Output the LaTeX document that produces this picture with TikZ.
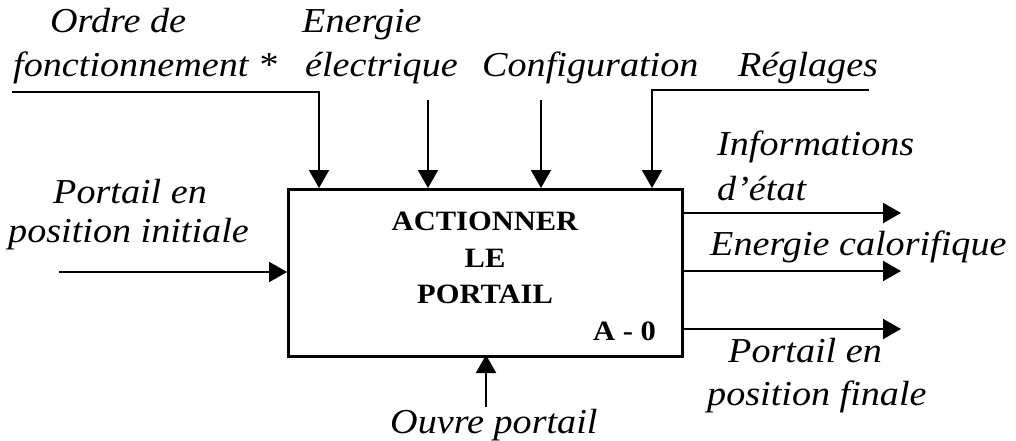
\documentclass[tikz,border=0pt]{standalone}
\usepackage{fontspec}
\setmainfont{Liberation Serif}[FakeStretch=1.09]
\usetikzlibrary{arrows.meta}
\tikzset{
  lab/.style={font=\fontsize{35}{40}\selectfont\itshape, inner sep=0pt, anchor=base west},
  ttl/.style={font=\fontsize{28}{34}\selectfont\bfseries, inner sep=0pt, anchor=base},
  flow/.style={line width=2pt, -{Triangle[length=18pt,width=20pt]}},
  plain/.style={line width=2pt},
  blk/.style={draw, line width=3pt, inner sep=0pt, anchor=north west}
}
\begin{document}
\begin{tikzpicture}[x=1pt,y=-1pt]
\useasboundingbox (0,0) rectangle (1016,441);
% box
\node[blk, minimum width=394pt, minimum height=167pt] (box) at (287,188) {};
\node[ttl] (t1) at (485,230) {ACTIONNER};
\node[ttl] (t2) at (485,267) {LE};
\node[ttl] (t3) at (485,303) {PORTAIL};
\node[ttl, anchor=base east] (ref) at (656,340) {A - 0};
% labels
\node[lab] (ord1) at (50,33) {Ordre de};
\node[lab] (ord2) at (13,77) {fonctionnement *};
\node[lab] (ene1) at (302,33) {Energie};
\node[lab] (ene2) at (305,77) {électrique};
\node[lab] (conf) at (482,77) {Configuration};
\node[lab] (regl) at (738,77) {Réglages};
\node[lab] (pin1) at (53,203) {Portail en};
\node[lab] (pin2) at (8,242) {position initiale};
\node[lab] (inf1) at (717,155) {Informations};
\node[lab] (inf2) at (717,200) {d’état};
\node[lab] (cal) at (710,255) {Energie calorifique};
\node[lab] (pfi1) at (728,362) {Portail en};
\node[lab] (pfi2) at (707,405) {position finale};
\node[lab] (ouv) at (390,433) {Ouvre portail};
% connector coordinates
\coordinate (ordS) at (12,92);
\coordinate (ordE) at (319,188);
\coordinate (eneS) at (428,100);
\coordinate (eneE) at (428,188);
\coordinate (confS) at (541,100);
\coordinate (confE) at (541,188);
\coordinate (regS) at (869,90);
\coordinate (regE) at (652,188);
\coordinate (inS) at (59,272);
\coordinate (inE) at (287,272);
\coordinate (ouS) at (486,407);
\coordinate (ouE) at (486,355);
\coordinate (o1S) at (681,213);
\coordinate (o1E) at (901,213);
\coordinate (o2S) at (681,271);
\coordinate (o2E) at (901,271);
\coordinate (o3S) at (681,329);
\coordinate (o3E) at (901,329);
% connectors
\draw[flow] (ordS) -| (ordE);
\draw[flow] (eneS) -- (eneE);
\draw[flow] (confS) -- (confE);
\draw[flow] (regS) -| (regE);
\draw[flow] (inS) -- (inE);
\draw[flow] (ouS) -- (ouE);
\draw[flow] (o1S) -- (o1E);
\draw[flow] (o2S) -- (o2E);
\draw[flow] (o3S) -- (o3E);
\end{tikzpicture}
\end{document}
